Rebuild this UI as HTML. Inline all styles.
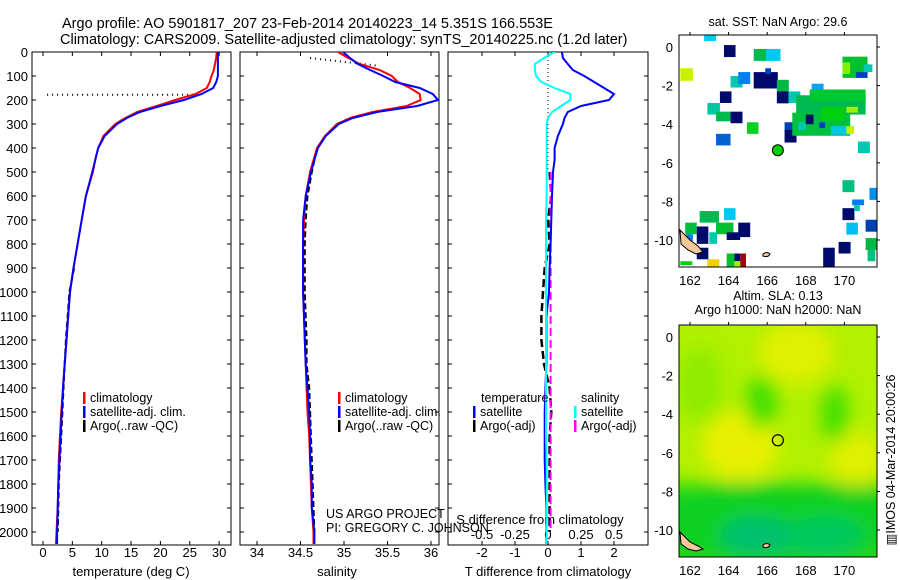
<!DOCTYPE html>
<html><head><meta charset="utf-8"><style>
html,body{margin:0;padding:0;background:#fff}
svg{display:block;font-family:"Liberation Sans",Arial,sans-serif}
</style></head><body>
<svg id="fig" width="900" height="580" viewBox="0 0 900 580" xmlns="http://www.w3.org/2000/svg">
<defs>
<clipPath id="c1"><rect x="32" y="52" width="199" height="493"/></clipPath>
<clipPath id="c2"><rect x="240" y="52" width="199" height="493"/></clipPath>
<clipPath id="c3"><rect x="448" y="52" width="200" height="493"/></clipPath>
<clipPath id="cm1"><rect x="679" y="35" width="198" height="232"/></clipPath>
<clipPath id="cm2"><rect x="679" y="325" width="198" height="232"/></clipPath>
<filter id="blur" x="-20%" y="-20%" width="140%" height="140%"><feGaussianBlur stdDeviation="9"/></filter>
</defs>
<text x="62" y="28" font-size="14.5">Argo profile: AO 5901817_207 23-Feb-2014 20140223_14 5.351S 166.553E</text>
<text x="60" y="44" font-size="14.5">Climatology: CARS2009. Satellite-adjusted climatology: synTS_20140225.nc (1.2d later)</text>
<g id="g"></g>
</svg>
<script>
// ---- profile data ----
const depths=[0,25,50,75,100,125,150,175,200,225,250,275,300,350,400,450,500,600,700,800,900,1000,1100,1200,1300,1400,1500,1600,1700,1800,1900,2000,2050];
const tempClim=[29.6,29.5,29.3,29.1,28.7,28.4,27.9,26.0,22.5,19.4,16.0,14.0,12.3,10.3,9.4,8.9,8.5,7.3,6.6,5.9,5.2,4.6,4.3,4.0,3.7,3.4,3.1,2.9,2.7,2.6,2.5,2.3,2.2];
const tempSat=[29.8,29.8,29.8,29.8,29.8,29.5,29.0,27.0,24.0,20.0,16.5,14.3,12.6,10.5,9.4,8.9,8.4,7.3,6.6,5.9,5.2,4.6,4.3,4.0,3.7,3.4,3.2,3.0,2.8,2.6,2.5,2.4,2.4];
const argoTempDepths=[900,1000,1100,1200,1300,1400,1500,1600,1700,1800,1900,2000];
const tempArgo=[5.3,4.5,4.2,3.9,3.7,3.5,3.3,3.1,2.9,2.7,2.6,2.5];
const salClim=[34.93,35.05,35.18,35.41,35.55,35.62,35.76,35.87,35.88,35.72,35.33,35.07,34.92,34.78,34.69,34.65,34.61,34.56,34.54,34.53,34.53,34.53,34.54,34.55,34.56,34.57,34.58,34.6,34.61,34.62,34.63,34.65,34.65];
const salSat=[34.99,35.07,35.16,35.3,35.45,35.59,35.87,36.02,36.08,35.84,35.38,35.1,34.94,34.79,34.7,34.66,34.62,34.56,34.53,34.53,34.53,34.53,34.54,34.55,34.56,34.58,34.6,34.61,34.61,34.63,34.63,34.66,34.66];
const argoSalDepths=[450,500,600,700,800,900,1000,1100,1200,1300,1400,1500,1600,1700,1800,1900,2000];
const salArgo=[34.66,34.63,34.58,34.56,34.55,34.55,34.55,34.56,34.57,34.57,34.6,34.61,34.62,34.63,34.64,34.65,34.66];
const tDiffSat=[0.42,0.45,0.6,0.75,1.1,1.4,1.7,2.0,1.85,1.0,0.6,0.5,0.45,0.3,0.2,0.2,0.15,0.12,0.1,0.08,0.05,0.03,-0.05,-0.05,-0.05,-0.08,-0.1,-0.1,-0.1,-0.08,-0.05,-0.05,-0.05];
const sDiffSat=[0.05,-0.03,-0.1,-0.1,-0.09,-0.05,0.05,0.17,0.17,0.1,0.03,0.0,-0.01,-0.01,-0.01,-0.01,-0.01,-0.01,-0.015,-0.015,-0.015,-0.015,-0.015,-0.015,-0.015,-0.015,-0.015,-0.015,-0.01,-0.01,-0.01,-0.01,-0.01];
const argoDeepDepths=[500,600,700,800,900,1000,1100,1200,1300,1400,1500,1600,1700,1800,1900,2000];
const argoTDiff=[0.05,0.1,0.0,0.05,-0.1,-0.15,-0.2,-0.2,-0.12,0.05,0.1,0.05,0.05,0.05,0.05,0.05];
const argoSDiff=[0.02,0.02,0.02,0.02,0.02,0.02,0.02,0.02,0.02,0.02,0.02,0.02,0.02,0.02,0.02,0.02];
const depthTicks=[0,100,200,300,400,500,600,700,800,900,1000,1100,1200,1300,1400,1500,1600,1700,1800,1900,2000];
const tempTicks=[0,5,10,15,20,25,30];
const salTicks=[34,34.5,35,35.5,36];
const tDiffTicks=[-2,-1,0,1,2];
const sDiffTicks=[-0.5,-0.25,0,0.25,0.5];
const lonTicks=[162,164,166,168,170];
const latTicks=[0,-2,-4,-6,-8,-10];
const sstCells=[[162.73,0.62,0.62,0.31,'#00d0f0'],[163.76,0.1,0.6,0.62,'#000a6a'],[165.3,-0.1,0.65,0.62,'#00b850'],[165.94,-0.1,0.75,0.62,'#00c8f0'],[161.5,-1.1,0.65,0.65,'#c8f000'],[164.1,-1.5,0.62,0.6,'#00c8b0'],[164.5,-1.3,0.62,0.62,'#0080f0'],[165.3,-1.3,1.25,0.85,'#000a6a'],[165.9,-1.1,0.3,0.3,'#0040c0'],[166.5,-1.7,0.62,0.62,'#00b840'],[166.5,-2.3,0.62,0.62,'#000a6a'],[167.1,-2.3,0.62,0.6,'#00c8b0'],[163.55,-2.3,0.6,0.6,'#000a6a'],[162.9,-2.9,0.65,0.6,'#00c8a0'],[163.35,-3.35,0.75,0.5,'#00b850'],[164.1,-3.35,0.62,0.6,'#000a6a'],[164.95,-3.9,0.6,0.6,'#00d020'],[163.35,-4.5,0.75,0.6,'#0060d0'],[166.9,-3.9,0.62,0.45,'#0040b0'],[166.9,-4.3,0.62,0.65,'#000a6a'],[168.3,-1.9,0.62,0.6,'#10a0f0'],[167.5,-2.5,3.6,1.0,'#00b850'],[168.2,-2.2,2.9,0.6,'#00c830'],[167.3,-3.4,3.0,1.2,'#00c040'],[168.8,-3.1,1.2,0.7,'#00d010'],[167.6,-3.9,0.4,0.4,'#00c8b0'],[168.0,-3.5,0.4,0.5,'#000a6a'],[168.7,-3.9,0.3,0.3,'#0040c0'],[169.3,-4.1,1.0,0.45,'#00c8e0'],[170.1,-4.1,0.4,0.4,'#c8f000'],[170.1,-3.1,0.6,0.3,'#a0f000'],[169.9,-0.5,1.3,1.1,'#00c030'],[169.9,-0.8,0.4,0.6,'#80f000'],[170.6,-1.3,0.6,0.3,'#0040c0'],[171.0,-0.9,0.45,0.4,'#00c8b0'],[170.7,-4.9,0.62,0.6,'#00c8b0'],[169.9,-6.9,0.62,0.62,'#00c080'],[171.3,-7.3,0.5,0.62,'#0090f0'],[170.4,-7.9,0.62,0.3,'#0080f0'],[169.9,-8.35,0.62,0.62,'#000a6a'],[170.5,-8.2,0.3,0.3,'#00c8b0'],[162.5,-8.5,1.0,0.6,'#00b850'],[163.76,-8.35,0.6,0.62,'#00c8f0'],[161.75,-9.1,0.6,0.6,'#00c040'],[162.35,-9.3,0.6,0.9,'#000a6a'],[161.8,-9.7,0.35,0.35,'#0080f0'],[163.35,-9.1,0.9,0.6,'#00c030'],[163.9,-9.6,0.7,0.4,'#000a6a'],[164.5,-9.1,0.62,0.75,'#000a6a'],[170.1,-9.1,0.6,0.62,'#00c0f0'],[171.1,-8.95,0.6,0.62,'#0040b0'],[171.1,-9.9,0.6,0.62,'#00b840'],[171.2,-10.5,0.4,0.6,'#00c080'],[169.7,-10.1,0.62,0.6,'#000a6a'],[168.9,-10.4,0.6,1.05,'#000a6a'],[162.35,-10.4,0.6,0.6,'#000a6a'],[162.9,-11.0,0.62,0.4,'#f0d000'],[163.9,-10.7,0.4,0.7,'#00c030'],[164.3,-10.7,0.3,0.4,'#000a6a'],[164.6,-10.7,0.3,0.7,'#a00010'],[164.3,-11.1,0.3,0.3,'#a0f000'],[161.5,-11.1,0.62,0.2,'#00d010'],[163.0,-9.6,0.4,0.6,'#00c8b0']];
const slaBlobs=[[167.5,-0.8,2.0,1.6,'#e0f000'],[164.6,-5.6,2.0,1.8,'#e8f000'],[170.6,-6.3,1.4,1.4,'#e0f000'],[165.7,-3.4,0.8,1.4,'#40e000'],[169.5,-4.0,0.7,1.5,'#40e000'],[162.5,-2.5,1.2,2.0,'#90ec00'],[166.5,-9.6,6.5,2.0,'#10d020'],[165.5,-10.3,2.0,1.0,'#00c070'],[169.0,-10.3,2.0,1.0,'#00c860']];

const NS='http://www.w3.org/2000/svg';
const G=document.getElementById('g');
function el(tag,attrs,parent){const e=document.createElementNS(NS,tag);for(const k in attrs)e.setAttribute(k,attrs[k]);(parent||G).appendChild(e);return e;}
function txt(x,y,s,size,anchor,parent){const t=el('text',{x:x,y:y,'font-size':size,'text-anchor':anchor||'start'},parent);t.textContent=s;return t;}
const yD=d=>52+d*0.24;
const xT=t=>43+t*5.87;
const xS=s=>257+(s-34)*87;
const xDT=t=>548+t*33;
const xDS=s=>548+s*132;
const TOP=52,BOT=545;
function pathFrom(xs,ds,fx){return xs.map((v,i)=>(i?'L':'M')+fx(v).toFixed(1)+' '+yD(ds[i]).toFixed(1)).join(' ');}
function line(xs,ds,fx,color,w,dash,clip,name){const p=el('path',{d:pathFrom(xs,ds,fx),fill:'none',stroke:color,'stroke-width':w,'clip-path':'url(#'+clip+')'});if(dash)p.setAttribute('stroke-dasharray',dash);


return p;}
function panelFrame(x0,x1,name){const r=el('rect',{x:x0,y:TOP,width:x1-x0,height:BOT-TOP,fill:'none',stroke:'#000','stroke-width':1});


depthTicks.forEach(d=>{el('line',{x1:x0,x2:x0+4,y1:yD(d),y2:yD(d),stroke:'#000'});el('line',{x1:x1-4,x2:x1,y1:yD(d),y2:yD(d),stroke:'#000'});});}
function xTicks(vals,fx,labelY,fmt,name){vals.forEach(v=>{const x=fx(v);el('line',{x1:x,x2:x,y1:TOP,y2:TOP+4,stroke:'#000'});el('line',{x1:x,x2:x,y1:BOT-4,y2:BOT,stroke:'#000'});const t=txt(x,labelY,fmt?fmt(v):String(v),13,'middle');

});}

panelFrame(32,231,'temperature-axes');
depthTicks.forEach(d=>{const t=txt(28,yD(d)+5,String(d),13,'end');

});
xTicks(tempTicks,xT,557,null,'temperature-tick-label');
const t1=txt(131,576,'temperature (deg C)',13,'middle');
line(tempArgo,argoTempDepths,xT,'#000',2,'6,3','c1','argo-temperature-line');
const dot1=el('line',{x1:xT(0.7),x2:xT(26),y1:yD(178),y2:yD(178),stroke:'#000','stroke-width':2,'stroke-dasharray':'1,4'});


line(tempClim,depths,xT,'#ff0000',2,null,'c1','temperature-climatology-line');
line(tempSat,depths,xT,'#0000ff',2,null,'c1','temperature-satellite-line');
function legend(x,y,items,name){items.forEach((it,i)=>{const g=el('g',{});


el('rect',{x:x,y:y+i*14-10,width:2.5,height:12,fill:it[0]},g);txt(x+7,y+i*14,it[1],12.5,'start',g);});}
legend(83,402,[['#ff0000','climatology'],['#0000ff','satellite-adj. clim.'],['#000','Argo(..raw -QC)']],'temperature-legend-entry');

panelFrame(240,439,'salinity-axes');
xTicks(salTicks,xS,557,null,'salinity-tick-label');
const t2=txt(337,576,'salinity',13,'middle');
line(salArgo,argoSalDepths,xS,'#000',2,'6,3','c2','argo-salinity-line');
const dot2=el('line',{x1:xS(34.61),x2:xS(35.41),y1:yD(25),y2:yD(58),stroke:'#000','stroke-width':2,'stroke-dasharray':'1,4'});


line(salClim,depths,xS,'#ff0000',2,null,'c2','salinity-climatology-line');
line(salSat,depths,xS,'#0000ff',2,null,'c2','salinity-satellite-line');
legend(338,402,[['#ff0000','climatology'],['#0000ff','satellite-adj. clim.'],['#000','Argo(..raw -QC)']],'salinity-legend-entry');
const c1=txt(326,518,'US ARGO PROJECT',12.5);
const c2=txt(326,532,'PI: GREGORY C. JOHNSON',12.5);

panelFrame(448,648,'difference-axes');
xTicks(tDiffTicks,xDT,557,null,'t-difference-tick-label');
sDiffTicks.forEach(v=>{const t=txt(xDS(v),539,String(v),13,'middle');

});
const t3=txt(548,576,'T difference from climatology',13,'middle');
const t4=txt(540,524,'S difference from climatology',13,'middle');
const zl=el('line',{x1:xDT(0),x2:xDT(0),y1:TOP,y2:yD(500),stroke:'#000','stroke-dasharray':'1,3'});


line(argoTDiff,argoDeepDepths,xDT,'#000',2.5,'8,4','c3','argo-t-difference-line');
line(argoSDiff,argoDeepDepths,xDS,'#ff00ff',2,'8,4','c3','argo-s-difference-line');
line(tDiffSat,depths,xDT,'#0000ff',2,null,'c3','satellite-t-difference-line');
line(sDiffSat,depths,xDS,'#00ffff',2,null,'c3','satellite-s-difference-line');
const tl=txt(481,402,'temperature',12.5);
const sl=txt(581,402,'salinity',12.5);
legend(473,416,[['#0000ff','satellite'],['#000','Argo(-adj)']],'t-diff-legend-entry');
legend(574,416,[['#00ffff','satellite'],['#ff00ff','Argo(-adj)']],'s-diff-legend-entry');

const mx=lon=>690+(lon-162)*19.3;
function mapAxes(y0,latZeroY,name){const my=lat=>latZeroY-lat*19.3;
const r=el('rect',{x:679,y:y0,width:198,height:232,fill:'none',stroke:'#000'});


lonTicks.forEach(l=>{el('line',{x1:mx(l),x2:mx(l),y1:y0-3,y2:y0,stroke:'#000'});const t=txt(mx(l),y0+232+18,String(l),13,'middle');

});
latTicks.forEach(l=>{el('line',{x1:877,x2:880,y1:my(l),y2:my(l),stroke:'#000'});const t=txt(673,my(l)+5,String(l),13,'end');

});
return my;}
const my1=lat=>47-lat*19.3;
const sstG=el('g',{'clip-path':'url(#cm1)'});
sstCells.forEach(c=>{const r=el('rect',{x:mx(c[0]),y:my1(c[1]),width:c[2]*19.3,height:c[3]*19.3,fill:c[4]},sstG);

});
el('path',{d:'M680 230 L684 234 L690 240 L698 246 L703 252 L696 254 L688 250 L681 244 Z',fill:'#f5c89a',stroke:'#000','stroke-width':1},sstG);
el('path',{d:'M763 254 q4 -3 7 0 q-2 4 -7 2 z',fill:'#f5c89a',stroke:'#000'},sstG);
mapAxes(35,47,'sst-map-axes');
const ac=el('circle',{cx:mx(166.553),cy:my1(-5.351),r:5.5,fill:'#00d000',stroke:'#000','stroke-width':1});


const st=txt(778,26,'sat. SST: NaN Argo: 29.6',12.5,'middle');
const my2=lat=>337-lat*19.3;
const slaG=el('g',{'clip-path':'url(#cm2)'});
el('rect',{x:679,y:325,width:198,height:232,fill:'#b0f000'},slaG);
const bg=el('g',{filter:'url(#blur)'},slaG);
el('rect',{x:660,y:my2(-7.6),width:240,height:120,fill:'#20d818'},bg);
slaBlobs.forEach(b=>{const e=el('ellipse',{cx:mx(b[0]),cy:my2(b[1]),rx:b[2]*19.3,ry:b[3]*19.3,fill:b[4]},bg);

});
el('path',{d:'M680 532 L684 536 L690 542 L698 546 L703 549 L696 551 L688 549 L681 544 Z',fill:'#f5c89a',stroke:'#000'},slaG);
el('path',{d:'M763 545 q4 -3 7 0 q-2 4 -7 2 z',fill:'#f5c89a',stroke:'#000'},slaG);
mapAxes(325,337,'sla-map-axes');
const ac2=el('circle',{cx:mx(166.553),cy:my2(-5.351),r:5.5,fill:'none',stroke:'#000','stroke-width':1.2});


const s1=txt(778,300,'Altim. SLA: 0.13',12.5,'middle');
const s2=txt(778,314,'Argo h1000: NaN h2000: NaN',12.5,'middle');
const im=txt(0,0,'▥IMOS 04-Mar-2014 20:00:26',12.5,'middle');
im.setAttribute('transform','translate(895,460) rotate(-90)');


</script>
</body></html>
